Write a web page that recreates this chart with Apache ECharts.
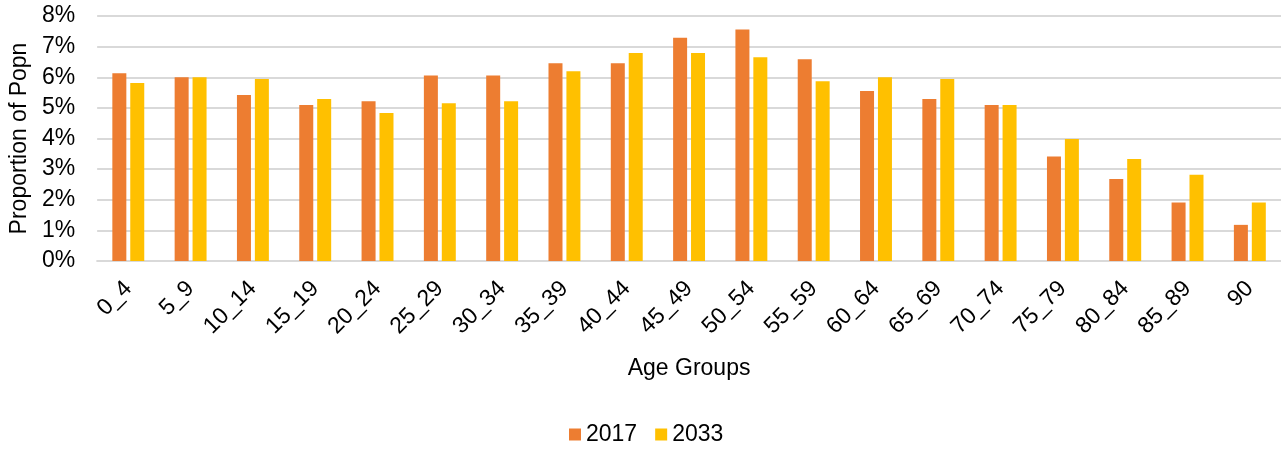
<!DOCTYPE html>
<html>
<head>
<meta charset="utf-8">
<script src="https://cdn.jsdelivr.net/npm/echarts@6/dist/echarts.min.js"></script>
<style>
html,body{margin:0;padding:0;background:#fff;}
#chart{width:1281px;height:452px;}
</style>
</head>
<body>
<div id="chart"></div>
<script>
const categories = ['0_4','5_9','10_14','15_19','20_24','25_29','30_34','35_39','40_44','45_49','50_54','55_59','60_64','65_69','70_74','75_79','80_84','85_89','90'];
const values2017 = [6.13,6.0,5.42,5.09,5.22,6.06,6.06,6.46,6.46,7.29,7.56,6.59,5.55,5.29,5.09,3.41,2.68,1.91,1.18];
const values2033 = [5.81,6.0,5.94,5.29,4.83,5.15,5.22,6.2,6.79,6.79,6.65,5.87,6.0,5.94,5.09,3.98,3.33,2.82,1.91];
const yTicks = [0,1,2,3,4,5,6,7,8];

const chart = echarts.init(document.getElementById('chart'));
const font = 'Liberation Sans, Arial, sans-serif';
const fs = 23;
chart.setOption({
  animation: false,
  textStyle: { fontFamily: font },
  grid: { left: 97, right: 0, top: 16, bottom: 191 },
  legend: {
    data: ['2017','2033'],
    top: 418,
    left: 564,
    itemWidth: 12, itemHeight: 12, itemGap: 18,
    icon: 'rect',
    textStyle: { fontSize: fs, color: '#000', fontFamily: font }
  },
  xAxis: {
    type: 'category',
    data: categories,
    name: 'Age Groups',
    nameLocation: 'middle',
    nameGap: 96,
    nameTextStyle: { fontSize: fs, color: '#000', fontFamily: font },
    axisLine: { show: true, lineStyle: { color: '#d9d9d9', width: 2 } },
    axisTick: { show: false },
    axisLabel: { rotate: 45, fontSize: fs, color: '#000', margin: 24, interval: 0, fontFamily: font }
  },
  yAxis: {
    type: 'value',
    min: yTicks[0],
    max: yTicks[yTicks.length - 1],
    interval: 1,
    name: 'Proportion of Popn',
    nameLocation: 'middle',
    nameGap: 66,
    nameTextStyle: { fontSize: fs, color: '#000', fontFamily: font },
    axisLine: { show: false },
    axisTick: { show: false },
    axisLabel: { formatter: '{value}%', fontSize: fs, color: '#000', margin: 22, fontFamily: font },
    splitLine: { lineStyle: { color: '#d9d9d9', width: 2 } }
  },
  series: [
    { name: '2017', type: 'bar', data: values2017, barWidth: 14, barGap: '28%', itemStyle: { color: '#ED7D31' } },
    { name: '2033', type: 'bar', data: values2033, barWidth: 14, itemStyle: { color: '#FFC000' } }
  ]
});
</script>
</body>
</html>
